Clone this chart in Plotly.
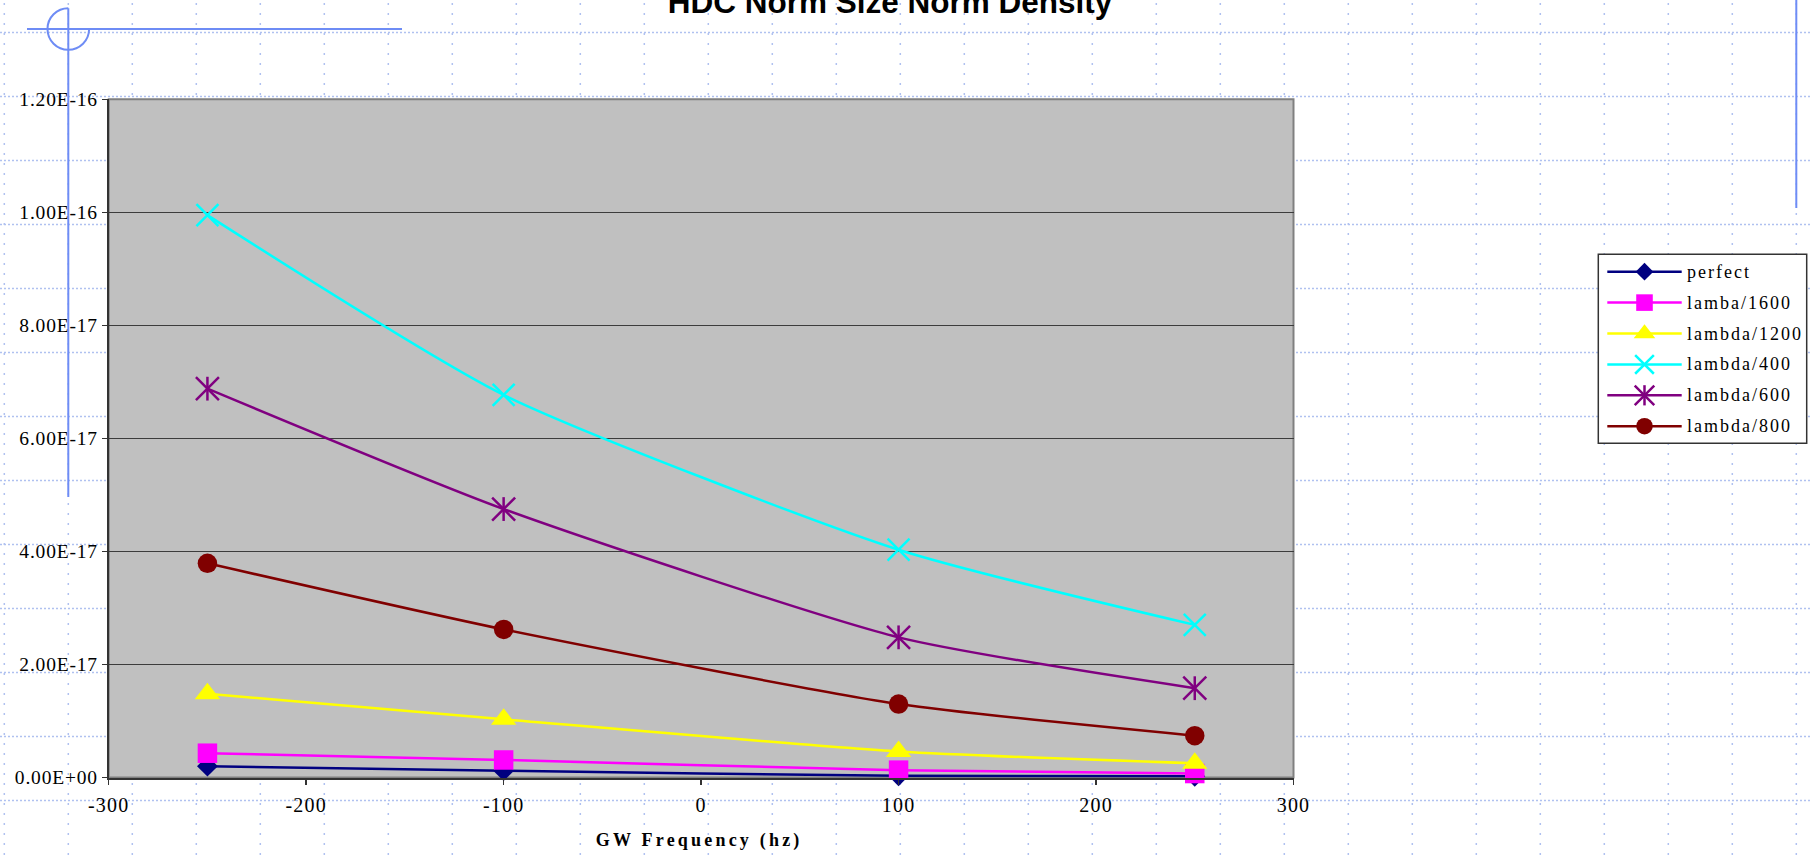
import plotly.graph_objects as go

W, H = 1810, 855

# ---------------- data ----------------
freq_hz = [-250, -100, 100, 250]
series_names = ["perfect", "lamba/1600", "lambda/1200", "lambda/400", "lambda/600", "lambda/800"]
perfect = [2.0e-18, 1.2e-18, 3.0e-19, 2.0e-19]
lamba_1600 = [4.3e-18, 3.1e-18, 1.3e-18, 7.0e-19]
lambda_1200 = [1.48e-17, 1.03e-17, 4.6e-18, 2.5e-18]
lambda_400 = [9.95e-17, 6.77e-17, 4.03e-17, 2.70e-17]
lambda_600 = [6.88e-17, 4.75e-17, 2.48e-17, 1.58e-17]
lambda_800 = [3.79e-17, 2.62e-17, 1.30e-17, 7.4e-18]
series_values = [perfect, lamba_1600, lambda_1200, lambda_400, lambda_600, lambda_800]

x_tick_vals = [-300, -200, -100, 0, 100, 200, 300]
x_tick_text = ["-300", "-200", "-100", "0", "100", "200", "300"]
y_tick_vals = [0.0, 2e-17, 4e-17, 6e-17, 8e-17, 1.0e-16, 1.2e-16]
y_tick_text = ["0.00E+00", "2.00E-17", "4.00E-17", "6.00E-17", "8.00E-17", "1.00E-16", "1.20E-16"]

chart_title = "HDC Norm Size Norm Density"
x_title = "GW Frequency (hz)"

# ---------------- styling ----------------
# colour plus one or more marker layers (symbol, size) per series
styles = {
    "perfect": dict(color="#000080", marks=[("diamond", 16)]),
    "lamba/1600": dict(color="#FF00FF", marks=[("square", 19.5)]),
    "lambda/1200": dict(color="#FFFF00", marks=[("triangle-up", 22)]),
    "lambda/400": dict(color="#00FFFF", marks=[("x-thin", 22)]),
    "lambda/600": dict(color="#800080", marks=[("x-thin", 23), ("line-ns", 17)]),
    "lambda/800": dict(color="#800000", marks=[("circle", 19.5)]),
}
THIN = {"x-thin", "line-ns"}
LEGEND_MARK_SCALE = 0.85

SERIF = "Liberation Serif, Times New Roman, serif"
SANS = "Liberation Sans, Arial, sans-serif"

# page geometry (pixels)
PLOT_L, PLOT_R, PLOT_T, PLOT_B = 108.7, 1293.5, 99.3, 777.5
LEG_L, LEG_R, LEG_T, LEG_B = 1598.3, 1806.7, 254.3, 443.3
LEG_ROW0, LEG_ROW_STEP = 17.4, 30.9
LEG_LINE_X0, LEG_LINE_X1, LEG_TEXT_X = 9.0, 83.4, 86.5

GUIDE_BLUE = "rgb(110,140,245)"
DOT_BLUE = "rgb(176,193,240)"
DOT_STEP = 64.0
DOT_X0, DOT_Y0 = 4.3, 32.5


def fx(px):
    return px / W


def fy(py):
    return 1 - py / H


fig = go.Figure()

# ---------------- chart series ----------------
for name, vals in zip(series_names, series_values):
    st = styles[name]
    for k, (sym, size) in enumerate(st["marks"]):
        thin = sym in THIN
        fig.add_trace(go.Scatter(
            x=freq_hz, y=vals, name=name,
            mode="lines+markers" if k == 0 else "markers",
            line=dict(color=st["color"], width=2.5, shape="spline", smoothing=0.6),
            marker=dict(symbol=sym, size=size, color=st["color"],
                        line=dict(color=st["color"], width=2.5 if thin else 0)),
            cliponaxis=False, showlegend=False, hoverinfo="skip",
        ))

# ---------------- legend drawn on its own small axis pair ----------------
annotations = []
for i, name in enumerate(series_names):
    st = styles[name]
    row_y = LEG_ROW0 + LEG_ROW_STEP * i
    fig.add_trace(go.Scatter(
        x=[LEG_LINE_X0, LEG_LINE_X1], y=[row_y, row_y], xaxis="x2", yaxis="y2",
        mode="lines", line=dict(color=st["color"], width=2.5),
        showlegend=False, hoverinfo="skip",
    ))
    for sym, size in st["marks"]:
        thin = sym in THIN
        fig.add_trace(go.Scatter(
            x=[(LEG_LINE_X0 + LEG_LINE_X1) / 2], y=[row_y], xaxis="x2", yaxis="y2",
            mode="markers",
            marker=dict(symbol=sym, size=size * LEGEND_MARK_SCALE, color=st["color"],
                        line=dict(color=st["color"], width=2.5 if thin else 0)),
            cliponaxis=False, showlegend=False, hoverinfo="skip",
        ))
    annotations.append(dict(
        text=name, xref="x2", yref="y2", x=LEG_TEXT_X, y=row_y,
        xanchor="left", yanchor="middle", align="left", showarrow=False,
        font=dict(family=SERIF, size=18, color="black"),
    ))

x_title_index = len(annotations)
annotations.append(dict(
    text="<b>" + x_title + "</b>", xref="paper", yref="paper",
    x=fx((PLOT_L + PLOT_R) / 2 - 2), y=fy(840.5), xanchor="center", yanchor="middle",
    showarrow=False, font=dict(family=SERIF, size=18, color="black"),
))

# ---------------- shapes ----------------
shapes = []
# dotted page grid
k = 0
while DOT_Y0 + DOT_STEP * k < H:
    yy = DOT_Y0 + DOT_STEP * k
    shapes.append(dict(type="line", xref="paper", yref="paper", x0=0, x1=1, y0=fy(yy), y1=fy(yy),
                       line=dict(color=DOT_BLUE, width=1.5, dash="2px,2px"), layer="below"))
    k += 1
k = 0
while DOT_X0 + DOT_STEP * k < W:
    xx = DOT_X0 + DOT_STEP * k
    shapes.append(dict(type="line", xref="paper", yref="paper", x0=fx(xx), x1=fx(xx), y0=0, y1=1,
                       line=dict(color=DOT_BLUE, width=1.5, dash="2px,8px"), layer="below"))
    k += 1

# plot area fill and border
shapes.append(dict(type="rect", xref="x domain", yref="y domain", x0=0, x1=1, y0=0, y1=1,
                   fillcolor="#C0C0C0", line=dict(color="#808080", width=2), layer="below"))
# legend box
shapes.append(dict(type="rect", xref="x2 domain", yref="y2 domain", x0=0, x1=1, y0=0, y1=1,
                   fillcolor="white", line=dict(color="#333333", width=1.5), layer="below"))

# blue guides with a three-quarter circle marker
cx, cy, r = 68.3, 29.0, 20.8
kk = 0.5523 * r
arc = (f"M{fx(cx)},{fy(cy - r)} "
       f"C{fx(cx - kk)},{fy(cy - r)} {fx(cx - r)},{fy(cy - kk)} {fx(cx - r)},{fy(cy)} "
       f"C{fx(cx - r)},{fy(cy + kk)} {fx(cx - kk)},{fy(cy + r)} {fx(cx)},{fy(cy + r)} "
       f"C{fx(cx + kk)},{fy(cy + r)} {fx(cx + r)},{fy(cy + kk)} {fx(cx + r)},{fy(cy)}")
shapes.append(dict(type="path", xref="paper", yref="paper", path=arc,
                   line=dict(color=GUIDE_BLUE, width=2), layer="above"))
shapes.append(dict(type="line", xref="paper", yref="paper", x0=fx(cx), x1=fx(cx), y0=fy(cy - r), y1=fy(497),
                   line=dict(color=GUIDE_BLUE, width=2), layer="above"))
shapes.append(dict(type="line", xref="paper", yref="paper", x0=fx(27), x1=fx(402), y0=fy(cy), y1=fy(cy),
                   line=dict(color=GUIDE_BLUE, width=2), layer="above"))
shapes.append(dict(type="line", xref="paper", yref="paper", x0=fx(1796.3), x1=fx(1796.3), y0=1, y1=fy(208),
                   line=dict(color=GUIDE_BLUE, width=2), layer="above"))

fig.update_layout(
    width=W, height=H,
    margin=dict(l=0, r=0, t=0, b=0, pad=0, autoexpand=False),
    paper_bgcolor="white", plot_bgcolor="rgba(0,0,0,0)",
    showlegend=False,
    title=dict(text="<b>" + chart_title + "</b>", x=890 / W, xref="container", xanchor="center",
               y=1 - 12.5 / H, yref="container", yanchor="bottom",
               font=dict(family=SANS, size=31.5, color="black")),
    xaxis=dict(domain=[fx(PLOT_L), fx(PLOT_R)], range=[-300, 300], automargin=False,
               tickmode="array", tickvals=x_tick_vals, ticktext=x_tick_text,
               ticks="outside", ticklen=5, tickwidth=1.5, tickcolor="#333333",
               ticklabelstandoff=3,
               showline=True, linecolor="#333333", linewidth=2,
               showgrid=False, zeroline=False, fixedrange=True,
               tickfont=dict(family=SERIF, size=20, color="black"), anchor="y"),
    yaxis=dict(domain=[fy(PLOT_B), fy(PLOT_T)], range=[0, 1.2e-16], automargin=False,
               tickmode="array", tickvals=y_tick_vals, ticktext=y_tick_text,
               ticks="outside", ticklen=5, tickwidth=1.5, tickcolor="#333333",
               showline=True, linecolor="#333333", linewidth=2,
               showgrid=True, gridcolor="#3c3c3c", gridwidth=1.5, zeroline=False, fixedrange=True,
               tickfont=dict(family=SERIF, size=19.5, color="black"), anchor="x"),
    xaxis2=dict(domain=[fx(LEG_L), fx(LEG_R)], range=[0, LEG_R - LEG_L], visible=False,
                anchor="y2", fixedrange=True, automargin=False),
    yaxis2=dict(domain=[fy(LEG_B), fy(LEG_T)], range=[LEG_B - LEG_T, 0], visible=False,
                anchor="x2", fixedrange=True, automargin=False),
    annotations=annotations,
    shapes=shapes,
)

# page without body margin, plus letter spacing for the serif labels (re-applied after redraws)
spacing_js = (
    "document.documentElement.style.margin = '0';\n"
    "document.body.style.margin = '0';\n"
    "document.body.style.padding = '0';\n"
    "document.body.style.overflow = 'hidden';\n"
    "var gd = document.getElementById('{plot_id}');\n"
    "function applySpacing() {\n"
    "  function set(sel, v) { gd.querySelectorAll(sel).forEach(function (t) { t.style.letterSpacing = v; }); }\n"
    "  set('.xtick text', '1.2px');\n"
    "  set('.ytick text', '0.8px');\n"
    "  set('g.annotation text', '2px');\n"
    "  set('g.annotation[data-index=\"" + str(x_title_index) + "\"] text', '3.2px');\n"
    "}\n"
    "applySpacing();\n"
    "gd.on('plotly_afterplot', applySpacing);\n"
)

fig.write_html("out.html", config={"displayModeBar": False, "staticPlot": True}, post_script=spacing_js)
